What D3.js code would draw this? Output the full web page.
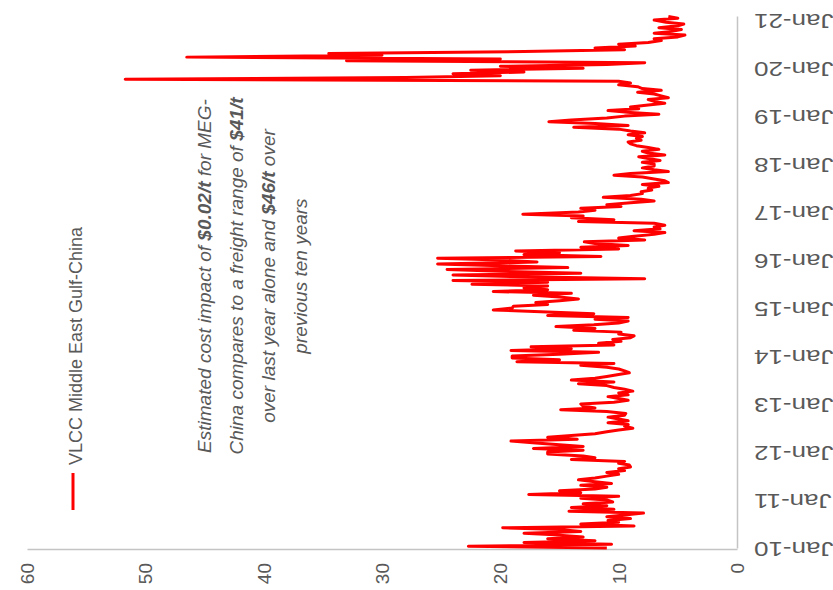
<!DOCTYPE html>
<html>
<head>
<meta charset="utf-8">
<script src="https://cdn.jsdelivr.net/npm/d3@7"></script>
<style>
  html, body { margin: 0; padding: 0; background: #fff; overflow: hidden; }
  text { font-family: "Liberation Sans", Arial, sans-serif; fill: #595959; }
</style>
</head>
<body>
<svg id="chart" width="833" height="590"></svg>
<script>
// VLCC Middle East Gulf-China freight, $/t, fortnightly readings per year
const seriesName = "VLCC Middle East Gulf-China";
const valueTicks = [0, 10, 20, 30, 40, 50, 60];
const dateTickLabels = ["Jan-10", "Jan-11", "Jan-12", "Jan-13", "Jan-14", "Jan-15",
                        "Jan-16", "Jan-17", "Jan-18", "Jan-19", "Jan-20", "Jan-21"];

const rate2010 = [11, 22.7, 10.6, 18, 12, 16, 13, 15, 18, 13.2, 15, 19.8, 8.7, 13.2, 10, 10.9, 9, 11, 9.5, 7.9, 14.2, 10.4, 14, 11, 13, 10.5];
const rate2011 = [11, 13.2, 10, 17.6, 13.2, 15, 12, 11, 13.2, 10.6, 12, 13.4, 12, 11, 10, 11, 9.5, 10, 9, 9.1, 10, 9.5, 14, 12, 13, 16];
const rate2012 = [16, 13, 17.2, 13, 15, 17, 19.1, 13.5, 16, 14, 12, 11, 10, 8.8, 9.5, 9.2, 10.9, 9.2, 10, 10.9, 9.5, 9.4, 11, 14.9, 12, 13];
const rate2013 = [13.2, 10.4, 9.2, 10, 10.9, 9.2, 10, 8.8, 9.5, 10.4, 11, 13.4, 10.4, 14, 12, 11, 10, 9.1, 9.5, 10, 11, 13.2, 10.4, 18.6, 15, 19];
const rate2014 = [19, 15, 11.7, 19.1, 14, 17.4, 10.4, 11.7, 9.8, 10.5, 9, 8.7, 10, 9.8, 13.8, 12, 15.3, 12.1, 10, 9.2, 12, 9.2, 16, 12.1, 16, 20.6];
const rate2015 = [19, 18.9, 16, 17, 15, 13.4, 15, 17.2, 14, 20.6, 16, 18, 16, 22.4, 16, 24, 7.8, 18, 24, 13.2, 20, 24.5, 14.3, 20, 25.3, 16.9];
const rate2016 = [20, 25.3, 11.5, 18, 15, 18.7, 10, 13.2, 9.2, 12, 12.9, 7.8, 10, 8.7, 7, 6.1, 8.7, 6.5, 7, 6.1, 7, 13.4, 10.4, 14, 13, 18.1];
const rate2017 = [13.4, 12, 13.2, 9.8, 11, 9, 7, 8.1, 11.3, 9, 8, 8.1, 7.2, 7.5, 6.6, 8, 5.8, 6.1, 7, 8, 10.4, 9, 5.8, 7, 8, 7];
const rate2018 = [7, 8, 6.5, 7.5, 8.3, 6.1, 7.5, 8, 6.6, 7.5, 8.5, 9, 9.2, 8.1, 8.5, 8, 9.2, 7.8, 9, 10, 13.8, 9.2, 12, 15.9, 14, 11];
const rate2019 = [9.5, 6.6, 9, 10.9, 8.3, 9, 7.5, 6.1, 7, 7.5, 5.8, 6.4, 7, 8.4, 6.4, 8, 8.4, 10, 9, 10, 51.7, 28, 20, 24, 18, 22.5];
const rate2020 = [13, 20, 11, 7.8, 33, 20, 46.5, 30, 34.5, 18, 9.5, 12, 8.6, 10, 7.5, 6.4, 7, 5, 4.4, 7, 5.5, 4.7, 6.6, 5, 4.5, 6];
const rate2021 = [7, 5, 5.8];

const ratesByYear = [
  [2010, rate2010], [2011, rate2011], [2012, rate2012], [2013, rate2013],
  [2014, rate2014], [2015, rate2015], [2016, rate2016], [2017, rate2017],
  [2018, rate2018], [2019, rate2019], [2020, rate2020], [2021, rate2021]
];

// Annotation lines: [text, bold?] segments
const noteLines = [
  [["Estimated cost impact of ", false], ["$0.02/t", true], [" for MEG-", false]],
  [["China compares to a freight range of ", false], ["$41/t", true]],
  [["over last year alone and ", false], ["$46/t", true], [" over", false]],
  [["previous ten years", false]]
];

const data = ratesByYear.flatMap(([yr, vals]) =>
  vals.map((v, k) => ({ date: new Date(yr, 0, 1 + 14 * k), value: v })));

const svg = d3.select("#chart");
svg.append("rect").attr("width", 833).attr("height", 590).attr("fill", "#fff");

// The chart lies on its side: values run right-to-left, time runs bottom-to-top
const x = d3.scaleLinear().domain([0, 60]).range([737, 27]);
const y = d3.scaleTime().domain([new Date(2010, 0, 1), new Date(2021, 1, 1)]).range([548, 16]);

// Value axis along the bottom
const xAxis = d3.axisBottom(x).tickValues(valueTicks).tickSize(0).tickSizeOuter(0)
  .tickFormat(d3.format("d"));
const gx = svg.append("g").attr("transform", "translate(0,549)").call(xAxis);
gx.attr("font-family", null).attr("font-size", null);
gx.select(".domain").attr("stroke", "#c4c4c4").attr("stroke-width", 1.5);
gx.selectAll(".tick text")
  .attr("transform", "rotate(-90)")
  .attr("x", -14).attr("y", 0).attr("dy", "0.35em")
  .attr("text-anchor", "end")
  .style("font-size", "19px").style("fill", "#595959");

// Date axis along the right edge, labels upside down
const yearTicks = dateTickLabels.map((_, i) => new Date(2010 + i, 0, 1));
const yAxis = d3.axisRight(y).tickValues(yearTicks).tickSize(0).tickSizeOuter(0)
  .tickFormat((d, i) => dateTickLabels[i]);
const gy = svg.append("g").attr("transform", "translate(737,0)").call(yAxis);
gy.attr("font-family", null).attr("font-size", null);
gy.select(".domain").attr("stroke", "#c4c4c4").attr("stroke-width", 1.5);
gy.selectAll(".tick text")
  .attr("x", 0).attr("dy", 0)
  .attr("transform", "translate(17,0) rotate(180) scale(1.3,1)")
  .attr("text-anchor", "end")
  .attr("dominant-baseline", "central")
  .style("font-size", "20px").style("fill", "#595959");

// Freight series
const line = d3.line().x(d => x(d.value)).y(d => y(d.date));
svg.append("path")
  .datum(data)
  .attr("d", line)
  .attr("fill", "none")
  .attr("stroke", "#ff0000")
  .attr("stroke-width", 3)
  .attr("stroke-linejoin", "round");

// Legend
svg.append("line")
  .attr("x1", 73).attr("x2", 73).attr("y1", 473).attr("y2", 510)
  .attr("stroke", "#ff0000").attr("stroke-width", 3);
svg.append("text")
  .attr("transform", "translate(76,465) rotate(-90)")
  .attr("text-anchor", "start")
  .attr("dominant-baseline", "central")
  .style("font-size", "18px")
  .text(seriesName);

// Annotation
const noteX = [204, 236, 268, 300];
noteLines.forEach((segs, i) => {
  const t = svg.append("text")
    .attr("transform", `translate(${noteX[i]},276) rotate(-90)`)
    .attr("text-anchor", "middle")
    .attr("dominant-baseline", "central")
    .style("font-size", "19px")
    .style("font-style", "italic");
  segs.forEach(([s, bold]) => {
    t.append("tspan").attr("font-weight", bold ? "bold" : "normal").text(s);
  });
});
</script>
</body>
</html>
